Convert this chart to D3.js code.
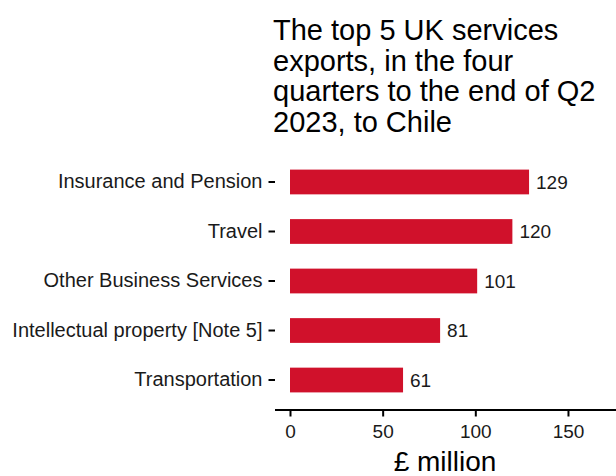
<!DOCTYPE html>
<html>
<head>
<meta charset="utf-8">
<script src="https://cdn.jsdelivr.net/npm/d3@7"></script>
<style>
  body { margin: 0; background: #fff; }
  text { font-family: "Liberation Sans", Arial, sans-serif; }
</style>
</head>
<body>
<script>
const categories = ["Insurance and Pension", "Travel", "Other Business Services",
  "Intellectual property [Note 5]", "Transportation"];
const values = [129, 120, 101, 81, 61];
const xTicks = [0, 50, 100, 150];
const titleLines = ["The top 5 UK services", "exports, in the four",
  "quarters to the end of Q2", "2023, to Chile"];

const width = 616, height = 476;
const svg = d3.select("body").append("svg")
  .attr("width", width)
  .attr("height", height);

const x = d3.scaleLinear().domain([0, 175]).range([290, 614.3]);
const y = d3.scaleBand().domain(categories).range([169.6, 392.4])
  .paddingInner(0.5).paddingOuter(0);

// title
svg.append("g")
  .selectAll("text")
  .data(titleLines)
  .join("text")
    .attr("x", 273)
    .attr("y", (d, i) => 40 + i * 30.6)
    .attr("font-size", 29)
    .attr("fill", "#000")
    .text(d => d);

// bars
svg.append("g")
  .selectAll("rect")
  .data(values)
  .join("rect")
    .attr("x", x(0))
    .attr("y", (d, i) => y(categories[i]))
    .attr("width", d => x(d) - x(0))
    .attr("height", y.bandwidth())
    .attr("fill", "#D0112B");

svg.append("g")
  .selectAll("text")
  .data(values)
  .join("text")
    .attr("x", d => x(d) + 7)
    .attr("y", (d, i) => y(categories[i]) + y.bandwidth() / 2)
    .attr("dy", "0.36em")
    .attr("font-size", 19)
    .attr("fill", "#1a1a1a")
    .text(d => d);

// y axis (ticks only, no line)
const yAxis = svg.append("g")
  .attr("transform", "translate(275,0)")
  .call(d3.axisLeft(y).tickSize(6.5).tickPadding(6));
yAxis.select(".domain").remove();
yAxis.selectAll("line").attr("stroke", "#000").attr("stroke-width", 2);
yAxis.selectAll("text").attr("font-size", 20).attr("fill", "#1a1a1a")
  .attr("font-family", "Liberation Sans, Arial, sans-serif");

// x axis
const xAxis = svg.append("g")
  .attr("transform", "translate(0,410)")
  .call(d3.axisBottom(x).tickValues(xTicks).tickSize(6.5).tickPadding(8).tickSizeOuter(0));
xAxis.select(".domain").attr("stroke", "#000").attr("stroke-width", 2.2)
  .attr("d", `M275,0H${width}`);
xAxis.selectAll("line").attr("stroke", "#000").attr("stroke-width", 2);
xAxis.selectAll("text").attr("font-size", 19).attr("fill", "#1a1a1a")
  .attr("font-family", "Liberation Sans, Arial, sans-serif");

svg.append("text")
  .attr("x", 445)
  .attr("y", 471)
  .attr("text-anchor", "middle")
  .attr("font-size", 28)
  .attr("fill", "#000")
  .text("£ million");
</script>
</body>
</html>
